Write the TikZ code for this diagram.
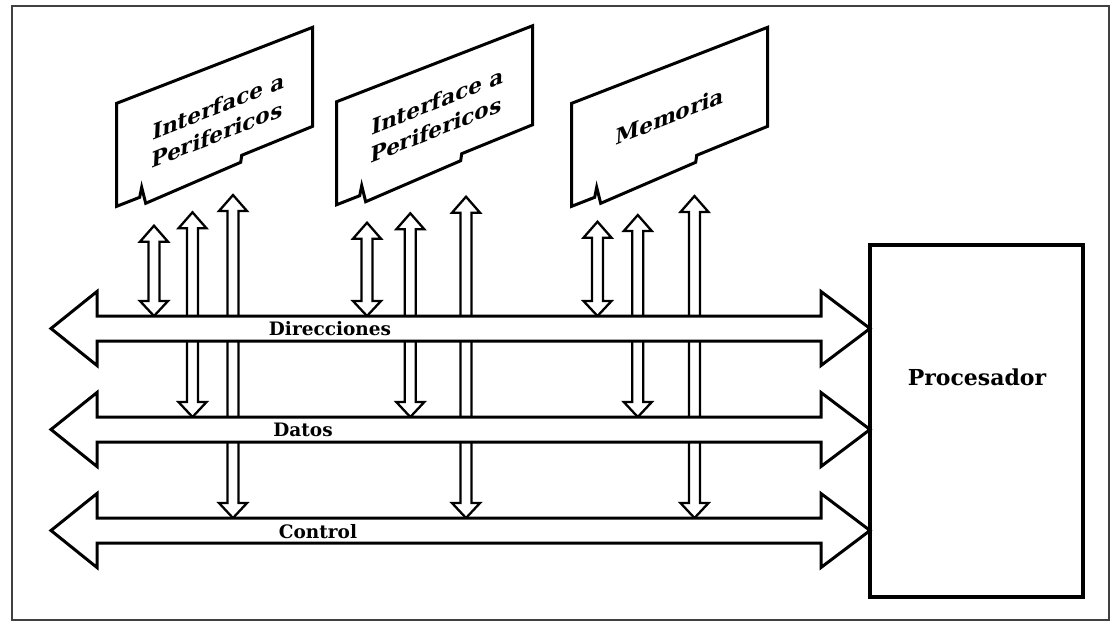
\documentclass[tikz,border=0pt]{standalone}
\usepackage{fontspec}
\setmainfont{DejaVu Serif}
% Double-headed vertical link: x, top tip y, bottom tip y
\newcommand{\vlink}[3]{%
  \filldraw[linkarrow] (#1-5.5,#2+16) -- (#1-14,#2+16) -- (#1,#2) -- (#1+14,#2+16)
    -- (#1+5.5,#2+16) -- (#1+5.5,#3-15) -- (#1+14,#3-15) -- (#1,#3)
    -- (#1-14,#3-15) -- (#1-5.5,#3-15) -- cycle;}
% Horizontal bus arrow with heads on both ends: centre line y
\newcommand{\hbus}[1]{%
  \filldraw[busarrow] (51,#1) -- (97,#1-37) -- (97,#1-12.5) -- (821,#1-12.5)
    -- (821,#1-37) -- (870,#1) -- (821,#1+37) -- (821,#1+12.5)
    -- (97,#1+12.5) -- (97,#1+37) -- cycle;}
% Slanted expansion card outline: top-left corner
\newcommand{\cardshape}[2]{%
  \draw[cardline,shift={(#1,#2)}] (0,0) -- (196,-76) -- (196,23) -- (125,52)
    -- (124,59) -- (29,100) -- (25,84) -- (23,94) -- (0,103) -- cycle;}
\begin{document}
\begin{tikzpicture}[x=1pt,y=-1pt,
  busarrow/.style={draw=black, fill=white, line width=3pt, line join=miter},
  linkarrow/.style={draw=black, fill=white, line width=2.3pt, line join=miter},
  cardline/.style={draw=black, fill=white, line width=3pt, line join=miter},
  buslabel/.style={inner sep=0pt, font=\bfseries\fontsize{18.5}{22}\selectfont},
  cardtext/.style={inner sep=0pt, align=center, yslant=0.4, xslant=0.05,
    font=\bfseries\fontsize{21.5}{28}\selectfont},
  procbox/.style={draw=black, line width=3.5pt, minimum width=213pt,
    minimum height=352pt, inner sep=0pt},
  frameline/.style={draw=black!75, line width=1.6pt}]
\useasboundingbox (0,0) rectangle (1114,630);

% Outer frame
\draw[frameline] (12,6) rectangle (1109,620);

% Vertical links from the cards down to the buses
\vlink{154}{225.7}{316}
\vlink{192.5}{212.3}{417}
\vlink{233}{195}{518}
\vlink{367}{222.7}{316}
\vlink{410.3}{213.3}{417}
\vlink{466}{196.7}{518}
\vlink{597.5}{221.7}{316}
\vlink{637.8}{215}{417}
\vlink{694.5}{196}{518}

% Buses
\hbus{328.5}
\hbus{429.5}
\hbus{530.5}
\node[buslabel] (ldir) at (330,328.5) {Direcciones};
\node[buslabel] (ldat) at (303,430) {Datos};
\node[buslabel] (lctl) at (318,531.5) {Control};

% Processor
\node[procbox] (proc) at (976.5,421) {};
\node[inner sep=0pt, font=\bfseries\fontsize{22}{26}\selectfont] (proctext) at (977,377) {Procesador};

% Cards
\cardshape{116.7}{103.3}
\cardshape{336.7}{101.7}
\cardshape{571.7}{103.3}
\node[cardtext] (card1) at (218,120) {Interface a\\Perifericos};
\node[cardtext] (card2) at (437,115) {Interface a\\Perifericos};
\node[cardtext] (card3) at (670,116) {Memoria};
\end{tikzpicture}
\end{document}
